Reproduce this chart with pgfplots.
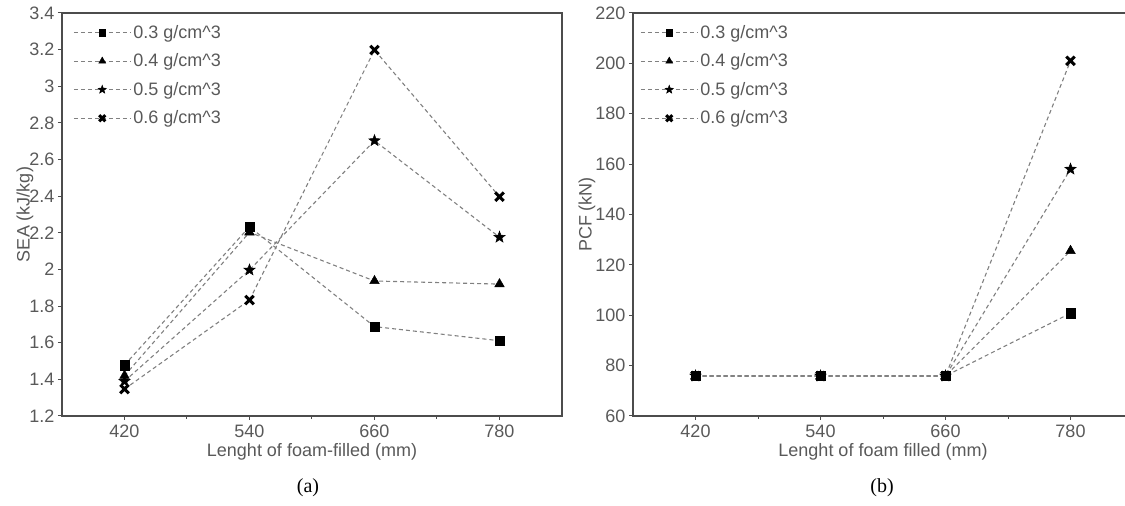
\documentclass[border=0pt]{standalone}
\usepackage{pgfplots}
\pgfplotsset{compat=1.18}
\usepackage{fontspec}
\setmainfont{Liberation Sans}
\newfontfamily\captionfont{Liberation Serif}
\usetikzlibrary{plotmarks}

\pgfdeclareplotmark{fstar}{%
  \pgfpathmoveto{\pgfpointpolar{90}{\pgfplotmarksize}}%
  \pgfpathlineto{\pgfpointpolar{126}{0.42\pgfplotmarksize}}%
  \pgfpathlineto{\pgfpointpolar{162}{\pgfplotmarksize}}%
  \pgfpathlineto{\pgfpointpolar{198}{0.42\pgfplotmarksize}}%
  \pgfpathlineto{\pgfpointpolar{234}{\pgfplotmarksize}}%
  \pgfpathlineto{\pgfpointpolar{270}{0.42\pgfplotmarksize}}%
  \pgfpathlineto{\pgfpointpolar{306}{\pgfplotmarksize}}%
  \pgfpathlineto{\pgfpointpolar{342}{0.42\pgfplotmarksize}}%
  \pgfpathlineto{\pgfpointpolar{18}{\pgfplotmarksize}}%
  \pgfpathlineto{\pgfpointpolar{54}{0.42\pgfplotmarksize}}%
  \pgfpathclose
  \pgfusepathqfillstroke
}

\definecolor{txt}{gray}{0.35}
\definecolor{ax}{gray}{0.3}
\definecolor{ln}{gray}{0.5}

\pgfplotsset{
  myaxis/.style={
    scale only axis, width=500pt, height=403pt,
    xmin=360, xmax=840,
    xtick={420,540,660,780}, minor xtick={480,600,720},
    tick align=outside, xtick pos=bottom, ytick pos=left,
    major tick length=4pt, minor tick length=3pt,
    axis line style={ax, line width=1.1pt},
    tick style={ax, line width=1pt},
    every tick label/.append style={font=\fontsize{18}{21}\selectfont, text=txt},
    label style={font=\fontsize{18}{21}\selectfont, text=txt},
    /pgf/number format/assume math mode=true,
    xticklabel style={yshift=-1pt},
    xlabel style={at={(axis description cs:0.5,0)}, anchor=center, yshift=-36pt},
    legend cell align=left,
    legend image code/.code={\draw[mark repeat=2,mark phase=2,#1, every mark/.append style={scale=0.72}] plot coordinates {(0pt,0pt) (28.5pt,0pt) (57pt,0pt)};},
    sq/.style={ln, dash pattern=on 4pt off 3pt, line width=1.1pt, mark=square*, mark size=4.7pt,
      mark options={solid, black, fill=black, line width=0.5pt}},
    tr/.style={ln, dash pattern=on 4pt off 3pt, line width=1.1pt, mark=triangle*, mark size=5.5pt,
      mark options={solid, black, fill=black, line width=0.5pt}},
    st/.style={ln, dash pattern=on 4pt off 3pt, line width=1.1pt, mark=fstar, mark size=6pt,
      mark options={solid, black, fill=black, line width=0.5pt}},
    cr/.style={ln, dash pattern=on 4pt off 3pt, line width=1.1pt, mark=x, mark size=6pt,
      mark options={solid, black, line width=3pt}},
  }
}

\begin{document}
\begin{tikzpicture}
\useasboundingbox (0,0) rectangle (1125pt,506pt);

\begin{axis}[myaxis, at={(62pt,90pt)}, anchor=south west,
  ymin=1.2, ymax=3.4, ytick={1.2,1.4,1.6,1.8,2,2.2,2.4,2.6,2.8,3,3.2,3.4},
  xlabel={Lenght of foam-filled (mm)}, ylabel={SEA (kJ/kg)},
  ylabel style={at={(axis description cs:-0.074,0.5)}, anchor=center},
  legend style={draw=none, fill=none, at={(axis description cs:0.022,0.975)}, anchor=north west,
    font=\fontsize{18}{21}\selectfont, text=txt, row sep=10pt, inner sep=0pt}]
\addplot[sq] coordinates {(420,1.478) (540,2.233) (660,1.688) (780,1.611)};
\addlegendentry{0.3 g/cm\textasciicircum3}
\addplot[tr] coordinates {(420,1.42) (540,2.203) (660,1.937) (780,1.92)};
\addlegendentry{0.4 g/cm\textasciicircum3}
\addplot[st] coordinates {(420,1.39) (540,1.997) (660,2.703) (780,2.176)};
\addlegendentry{0.5 g/cm\textasciicircum3}
\addplot[cr] coordinates {(420,1.347) (540,1.833) (660,3.198) (780,2.397)};
\addlegendentry{0.6 g/cm\textasciicircum3}
\end{axis}

\begin{axis}[myaxis, at={(633pt,90pt)}, anchor=south west,
  ymin=60, ymax=220, ytick={60,80,100,120,140,160,180,200,220},
  xlabel={Lenght of foam filled (mm)}, ylabel={PCF (kN)},
  ylabel style={at={(axis description cs:-0.092,0.5)}, anchor=center},
  legend style={draw=none, fill=none, at={(axis description cs:0.014,0.975)}, anchor=north west,
    font=\fontsize{18}{21}\selectfont, text=txt, row sep=10pt, inner sep=0pt}]
\addplot[sq] coordinates {(420,75.9) (540,75.9) (660,75.9) (780,100.8)};
\addlegendentry{0.3 g/cm\textasciicircum3}
\addplot[tr] coordinates {(420,75.9) (540,75.9) (660,75.9) (780,125.6)};
\addlegendentry{0.4 g/cm\textasciicircum3}
\addplot[st] coordinates {(420,75.9) (540,75.9) (660,75.9) (780,158)};
\addlegendentry{0.5 g/cm\textasciicircum3}
\addplot[cr] coordinates {(420,75.9) (540,75.9) (660,75.9) (780,201)};
\addlegendentry{0.6 g/cm\textasciicircum3}
\end{axis}

\node[font=\captionfont\fontsize{20}{23}\selectfont] at (308pt,18pt) {(a)};
\node[font=\captionfont\fontsize{20}{23}\selectfont] at (882pt,18pt) {(b)};
\end{tikzpicture}
\end{document}
